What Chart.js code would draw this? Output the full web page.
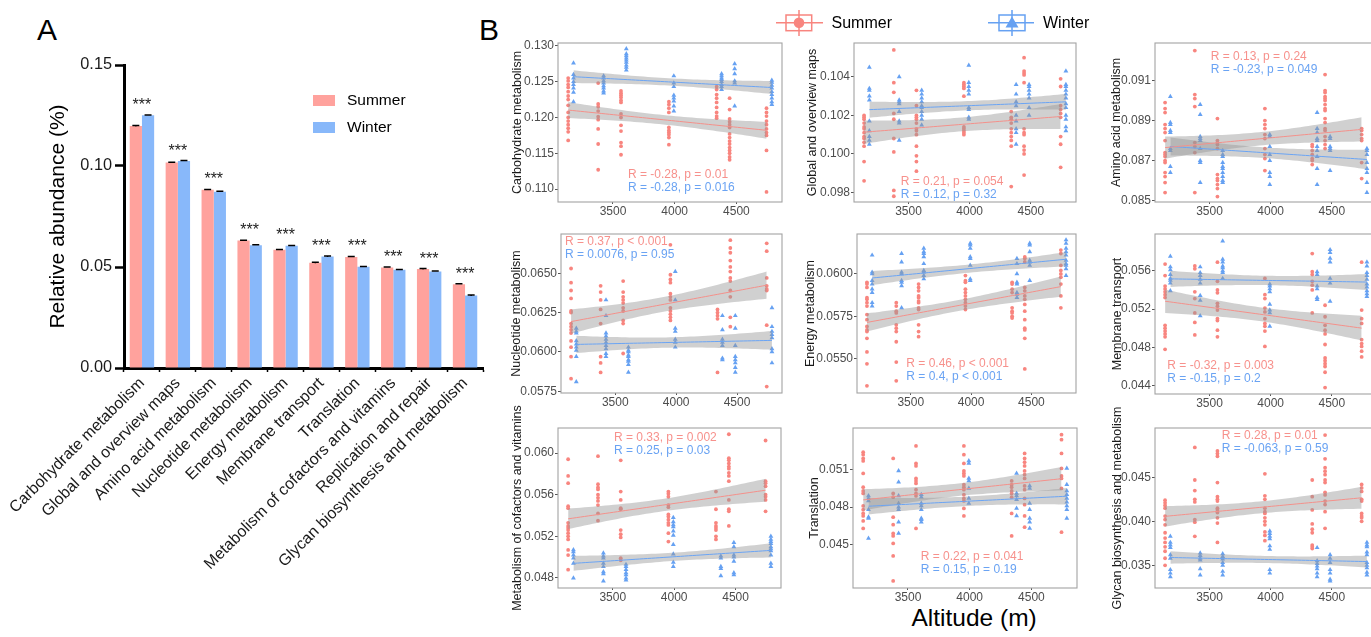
<!DOCTYPE html>
<html><head><meta charset="utf-8">
<script src="https://cdn.jsdelivr.net/npm/chart.js@4.4.1/dist/chart.umd.min.js"></script>
<style>
html,body{margin:0;padding:0;background:#fff;overflow:hidden;}
body{width:1371px;height:637px;position:relative;}
canvas{position:absolute;}
.t{position:absolute;font-family:"Liberation Sans",Arial,sans-serif;color:#000;line-height:1;white-space:nowrap;}
</style></head><body>
<div class="t" style="left:37px;top:14.6px;font-size:30px">A</div>
<div class="t" style="left:479px;top:14.6px;font-size:30px">B</div>
<div class="t" style="left:911.5px;top:606px;font-size:24.5px">Altitude (m)</div>
<script>
// ---------------- Panel A data ----------------
const categories = ['Carbohydrate metabolism','Global and overview maps','Amino acid metabolism','Nucleotide metabolism','Energy metabolism','Membrane transport','Translation','Metabolism of cofactors and vitamins','Replication and repair','Glycan biosynthesis and metabolism'];
const summerMean = [0.1198,0.1017,0.0882,0.0631,0.0585,0.0521,0.0550,0.0498,0.0490,0.0415];
const winterMean = [0.1251,0.1025,0.0873,0.0608,0.0605,0.0552,0.0501,0.0486,0.0478,0.0359];
const summerSem = [0.0003,0.0002,0.0002,0.0002,0.0002,0.0002,0.0002,0.0002,0.0002,0.0002];
const winterSem = [0.0002,0.0002,0.0002,0.0002,0.0002,0.0002,0.0002,0.0002,0.0002,0.0002];
const sigLabels = ['***','***','***','***','***','***','***','***','***','***'];
const abundanceTicks = ['0.00','0.05','0.10','0.15'];

// ---------------- Panel B data ----------------
const summerAlt = [3137,3380,3565,3953,4340,4445,4744];
const winterAlt = [3180,3424,3608,3993,4380,4486,4787];
const altitudeTicks = ['3500','4000','4500'];

const carboS = [
 [0.1255,0.1251,0.1246,0.1242,0.1236,0.1230,0.1225,0.1217,0.1207,0.1200,0.1195,0.1190,0.1185,0.1180,0.1168],
 [0.1248,0.1219,0.1215,0.1209,0.1201,0.1197,0.1184,0.1163,0.1127],
 [0.1237,0.1234,0.1231,0.1228,0.1224,0.1221,0.1205,0.1200,0.1189,0.1181,0.1165,0.1160,0.1148],
 [0.1222,0.1218,0.1213,0.1207,0.1186,0.1182,0.1179,0.1176,0.1172,0.1162],
 [0.1243,0.1239,0.1232,0.1227,0.1221,0.1214,0.1207,0.1202,0.1199],
 [0.1227,0.1211,0.1198,0.1194,0.1190,0.1186,0.1177,0.1172,0.1167,0.1163,0.1158,0.1154,0.1150,0.1145,0.1141],
 [0.1213,0.1207,0.1202,0.1195,0.1190,0.1184,0.1179,0.1175,0.1154,0.1096]];
const carboW = [
 [0.1276,0.1260,0.1255,0.1250,0.1246,0.1241,0.1235,0.1222],
 [0.1258,0.1255,0.1251,0.1248,0.1244,0.1241,0.1237,0.1234],
 [0.1296,0.1289,0.1286,0.1283,0.1280,0.1277,0.1273,0.1270,0.1266],
 [0.1258,0.1248,0.1243,0.1231,0.1227,0.1223,0.1216,0.1209],
 [0.1261,0.1258,0.1255,0.1253,0.1250,0.1246,0.1243,0.1239],
 [0.1275,0.1268,0.1261,0.1251,0.1248,0.1216],
 [0.1252,0.1249,0.1245,0.1241,0.1236,0.1232,0.1227,0.1222,0.1218]];

const globalS = [
 [0.1020,0.1019,0.1018,0.1016,0.1014,0.1013,0.1011,0.1009,0.1008,0.1006,0.1004,0.0996,0.0986],
 [0.1054,0.1037,0.1032,0.1021,0.1018,0.1008,0.1001,0.0981,0.0978],
 [0.1033,0.1025,0.1020,0.1019,0.1018,0.1016,0.1013,0.1012,0.1010,0.1004,0.0999,0.0996,0.0991],
 [0.1037,0.1036,0.1035,0.1034,0.1030,0.1014,0.1013,0.1012,0.1011,0.1010],
 [0.1022,0.1019,0.1018,0.1016,0.1013,0.1011,0.1009,0.1007,0.1004,0.0983],
 [0.1050,0.1043,0.1042,0.1041,0.1037,0.1013,0.1011,0.1010,0.1004,0.1002,0.1000,0.0989],
 [0.1039,0.1035,0.1025,0.1023,0.1021,0.1019,0.1009,0.1005,0.0993]];
const globalW = [
 [0.1045,0.1034,0.1033,0.1030,0.1028,0.1017,0.1012,0.1009,0.1007,0.1005],
 [0.1040,0.1028,0.1027,0.1026,0.1022,0.1017,0.1016,0.1007],
 [0.1033,0.1031,0.1029,0.1027,0.1025,0.1024,0.1022,0.1020,0.1018,0.1015],
 [0.1046,0.1037,0.1035,0.1033,0.1031,0.1024,0.1023,0.1019,0.1018],
 [0.1036,0.1031,0.1027,0.1025,0.1020,0.1017,0.1013,0.1011,0.1005],
 [0.1036,0.1035,0.1033,0.1031,0.1029,0.1024,0.1020],
 [0.1043,0.1036,0.1035,0.1033,0.1031,0.1029,0.1026,0.1024,0.1020,0.1018,0.1014,0.1012]];

const aminoS = [
 [0.0899,0.0896,0.0894,0.0888,0.0886,0.0884,0.0880,0.0874,0.0873,0.0872,0.0870,0.0869,0.0864,0.0862,0.0859,0.0854],
 [0.0925,0.0903,0.0901,0.0897,0.0879,0.0877,0.0874,0.0854],
 [0.0891,0.0880,0.0879,0.0878,0.0876,0.0863,0.0861,0.0860,0.0858,0.0856,0.0852],
 [0.0896,0.0890,0.0888,0.0886,0.0883,0.0881,0.0876,0.0873,0.0871,0.0865],
 [0.0878,0.0877,0.0875,0.0873,0.0871,0.0870,0.0868],
 [0.0913,0.0905,0.0904,0.0902,0.0901,0.0900,0.0898,0.0896,0.0895,0.0891,0.0889,0.0886,0.0885,0.0882,0.0880,0.0878,0.0876],
 [0.0886,0.0885,0.0883,0.0881,0.0880,0.0869,0.0861]];
const aminoW = [
 [0.0902,0.0889,0.0888,0.0885,0.0884,0.0876,0.0875,0.0867,0.0864],
 [0.0898,0.0893,0.0882,0.0881,0.0880,0.0876,0.0870,0.0869,0.0859],
 [0.0875,0.0873,0.0872,0.0869,0.0867,0.0866,0.0864,0.0862,0.0860,0.0859],
 [0.0883,0.0882,0.0877,0.0873,0.0870,0.0864,0.0862,0.0858],
 [0.0894,0.0886,0.0884,0.0881,0.0880,0.0877,0.0875,0.0872,0.0866,0.0858],
 [0.0882,0.0881,0.0877,0.0876,0.0875,0.0865],
 [0.0876,0.0875,0.0873,0.0869,0.0866,0.0864,0.0859,0.0854]];

const nucleoS = [
 [0.0653,0.0644,0.0639,0.0634,0.0626,0.0625,0.0618,0.0616,0.0614,0.0612,0.0607,0.0603,0.0597,0.0583],
 [0.0642,0.0638,0.0633,0.0627,0.0618,0.0597,0.0593,0.0587],
 [0.0645,0.0638,0.0635,0.0633,0.0631,0.0628,0.0626,0.0620,0.0618,0.0599],
 [0.0668,0.0649,0.0646,0.0644,0.0637,0.0635,0.0633,0.0628,0.0626,0.0624,0.0622,0.0620],
 [0.0627,0.0625,0.0623,0.0621,0.0587],
 [0.0671,0.0666,0.0663,0.0658,0.0654,0.0651,0.0647,0.0645,0.0639,0.0635,0.0622,0.0616],
 [0.0669,0.0664,0.0647,0.0642,0.0640,0.0639,0.0617,0.0578]];
const nucleoW = [
 [0.0615,0.0613,0.0612,0.0607,0.0605,0.0603,0.0601,0.0597,0.0581],
 [0.0633,0.0623,0.0612,0.0610,0.0608,0.0606,0.0604,0.0602,0.0599,0.0597],
 [0.0603,0.0601,0.0600,0.0598,0.0597,0.0595,0.0594,0.0592,0.0587],
 [0.0651,0.0633,0.0615,0.0613,0.0608,0.0606,0.0603],
 [0.0623,0.0614,0.0608,0.0606,0.0604,0.0596,0.0595],
 [0.0623,0.0615,0.0604,0.0597,0.0595,0.0593,0.0590,0.0587],
 [0.0628,0.0616,0.0613,0.0611,0.0609,0.0602,0.0600,0.0593]];

const energyS = [
 [0.0595,0.0594,0.0592,0.0586,0.0585,0.0583,0.0581,0.0576,0.0573,0.0569,0.0567,0.0566,0.0562,0.0554,0.0547,0.0534],
 [0.0583,0.0581,0.0578,0.0577,0.0570,0.0568,0.0566,0.0560,0.0548,0.0537],
 [0.0594,0.0592,0.0590,0.0587,0.0586,0.0584,0.0583,0.0580,0.0579,0.0570,0.0566,0.0563],
 [0.0599,0.0596,0.0595,0.0591,0.0589,0.0587,0.0585,0.0583,0.0581,0.0579],
 [0.0595,0.0594,0.0591,0.0589,0.0580,0.0578,0.0577,0.0575,0.0574],
 [0.0610,0.0609,0.0607,0.0592,0.0590,0.0587,0.0585,0.0582,0.0578,0.0573,0.0568,0.0567,0.0562,0.0544],
 [0.0614,0.0612,0.0605,0.0602,0.0600,0.0598,0.0594,0.0587,0.0580]];
const energyW = [
 [0.0611,0.0601,0.0600,0.0596,0.0594,0.0591,0.0589,0.0583,0.0581],
 [0.0612,0.0607,0.0601,0.0600,0.0596,0.0595,0.0593,0.0580],
 [0.0615,0.0613,0.0612,0.0610,0.0606,0.0602,0.0601,0.0599,0.0597],
 [0.0618,0.0617,0.0615,0.0610,0.0609,0.0605,0.0597,0.0596],
 [0.0609,0.0606,0.0600,0.0595,0.0594,0.0589,0.0588,0.0586],
 [0.0618,0.0617,0.0613,0.0608,0.0607,0.0605,0.0596],
 [0.0620,0.0618,0.0615,0.0613,0.0611,0.0608,0.0606,0.0605,0.0603,0.0599]];

const membraneS = [
 [0.0567,0.0555,0.0544,0.0541,0.0538,0.0535,0.0532,0.0503,0.0500,0.0497,0.0494,0.0491,0.0478],
 [0.0565,0.0562,0.0538,0.0531,0.0516,0.0506,0.0493],
 [0.0569,0.0549,0.0540,0.0537,0.0526,0.0523,0.0519,0.0510,0.0508,0.0498,0.0491],
 [0.0552,0.0535,0.0531,0.0521,0.0517,0.0510,0.0505,0.0502,0.0497,0.0481],
 [0.0578,0.0559,0.0556,0.0549,0.0545,0.0540,0.0516],
 [0.0524,0.0512,0.0503,0.0498,0.0494,0.0483,0.0469,0.0466,0.0463,0.0460,0.0454,0.0438],
 [0.0569,0.0519,0.0510,0.0505,0.0488,0.0484,0.0481,0.0476,0.0470]];
const membraneW = [
 [0.0575,0.0564,0.0561,0.0556,0.0552,0.0550,0.0547,0.0539],
 [0.0564,0.0558,0.0555,0.0551,0.0547,0.0534,0.0529,0.0513],
 [0.0591,0.0572,0.0569,0.0565,0.0563,0.0560,0.0558,0.0552],
 [0.0546,0.0544,0.0541,0.0538,0.0525,0.0519,0.0516,0.0502],
 [0.0559,0.0556,0.0544,0.0541,0.0532,0.0530],
 [0.0582,0.0579,0.0573,0.0569,0.0552,0.0547,0.0528],
 [0.0569,0.0565,0.0558,0.0555,0.0551,0.0546,0.0543,0.0539,0.0536,0.0533]];

const cofactorS = [
 [0.0594,0.0578,0.0571,0.0549,0.0547,0.0533,0.0530,0.0528,0.0526,0.0523,0.0520,0.0517,0.0507,0.0502,0.0488],
 [0.0597,0.0570,0.0567,0.0565,0.0560,0.0557,0.0554,0.0550,0.0542,0.0535],
 [0.0593,0.0563,0.0555,0.0547,0.0546,0.0526,0.0522,0.0519,0.0499,0.0497],
 [0.0563,0.0561,0.0558,0.0550,0.0548,0.0541,0.0539,0.0536,0.0533,0.0531,0.0523,0.0515],
 [0.0563,0.0546,0.0533,0.0530,0.0528,0.0526,0.0520,0.0517],
 [0.0618,0.0595,0.0593,0.0590,0.0587,0.0585,0.0581,0.0578,0.0573,0.0555,0.0546,0.0544,0.0530],
 [0.0612,0.0573,0.0571,0.0568,0.0560,0.0558,0.0555,0.0544]];
const cofactorW = [
 [0.0507,0.0505,0.0502,0.0499,0.0494,0.0480],
 [0.0504,0.0501,0.0499,0.0494,0.0491,0.0486,0.0484,0.0477],
 [0.0493,0.0491,0.0488,0.0485,0.0483,0.0480,0.0478],
 [0.0538,0.0534,0.0531,0.0529,0.0525,0.0521,0.0512,0.0503,0.0495,0.0491],
 [0.0501,0.0499,0.0491,0.0489,0.0482],
 [0.0514,0.0510,0.0502,0.0500,0.0496,0.0485,0.0483],
 [0.0520,0.0517,0.0515,0.0513,0.0510,0.0508,0.0506,0.0502,0.0494,0.0491]];

const translationS = [
 [0.0524,0.0522,0.0519,0.0517,0.0507,0.0496,0.0493,0.0491,0.0481,0.0478,0.0475,0.0473,0.0469,0.0463],
 [0.0519,0.0491,0.0488,0.0472,0.0466,0.0459,0.0457,0.0451,0.0441,0.0421],
 [0.0529,0.0515,0.0513,0.0503,0.0501,0.0499,0.0494,0.0491,0.0489,0.0463],
 [0.0529,0.0522,0.0515,0.0509,0.0507,0.0505,0.0498,0.0496,0.0494,0.0490,0.0487,0.0485,0.0479,0.0473],
 [0.0501,0.0498,0.0496,0.0493,0.0491,0.0488,0.0475,0.0457],
 [0.0523,0.0519,0.0516,0.0513,0.0509,0.0506,0.0503,0.0497,0.0494,0.0487,0.0482,0.0473,0.0464],
 [0.0538,0.0534,0.0523,0.0511,0.0505,0.0503,0.0495,0.0460]];
const translationW = [
 [0.0489,0.0487,0.0485,0.0478,0.0472,0.0471,0.0455],
 [0.0509,0.0500,0.0489,0.0483,0.0480,0.0478,0.0468,0.0459],
 [0.0490,0.0488,0.0483,0.0481,0.0478,0.0471,0.0470,0.0468],
 [0.0517,0.0515,0.0503,0.0501,0.0495,0.0487,0.0483],
 [0.0507,0.0491,0.0489,0.0486,0.0479,0.0473],
 [0.0497,0.0495,0.0483,0.0478,0.0471,0.0468,0.0463],
 [0.0511,0.0498,0.0493,0.0490,0.0487,0.0484,0.0481,0.0478,0.0471]];

const glycanS = [
 [0.0424,0.0421,0.0418,0.0415,0.0406,0.0402,0.0396,0.0387,0.0381,0.0376,0.0371,0.0366,0.0358,0.0350],
 [0.0484,0.0447,0.0435,0.0425,0.0422,0.0402,0.0399,0.0383],
 [0.0480,0.0477,0.0474,0.0444,0.0428,0.0425,0.0423,0.0415,0.0413,0.0410,0.0404,0.0398,0.0376],
 [0.0454,0.0429,0.0425,0.0415,0.0411,0.0409,0.0404,0.0400,0.0396,0.0388,0.0384,0.0378],
 [0.0447,0.0428,0.0413,0.0397,0.0391,0.0387,0.0373,0.0371,0.0369],
 [0.0498,0.0471,0.0461,0.0457,0.0453,0.0447,0.0444,0.0433,0.0430,0.0423,0.0419,0.0411,0.0392],
 [0.0442,0.0438,0.0434,0.0425,0.0423,0.0409,0.0406,0.0404,0.0400]];
const glycanW = [
 [0.0383,0.0376,0.0373,0.0370,0.0362,0.0358,0.0345,0.0341,0.0337],
 [0.0364,0.0361,0.0358,0.0356,0.0346,0.0339],
 [0.0363,0.0360,0.0357,0.0353,0.0350,0.0343,0.0339],
 [0.0389,0.0386,0.0383,0.0380,0.0372,0.0368,0.0345,0.0341],
 [0.0370,0.0355,0.0352,0.0349,0.0346,0.0341,0.0337],
 [0.0362,0.0358,0.0353,0.0345,0.0341,0.0334,0.0332],
 [0.0376,0.0373,0.0371,0.0365,0.0362,0.0353,0.0350,0.0347,0.0342,0.0339]];

const panelTitles = ['Carbohydrate metabolism','Global and overview maps','Amino acid metabolism','Nucleotide metabolism','Energy metabolism','Membrane transport','Metabolism of cofactors and vitamins','Translation','Glycan biosynthesis and metabolism'];
const carboTicks = ['0.110','0.115','0.120','0.125','0.130'];
const globalTicks = ['0.098','0.100','0.102','0.104'];
const aminoTicks = ['0.085','0.087','0.089','0.091'];
const nucleoTicks = ['0.0575','0.0600','0.0625','0.0650'];
const energyTicks = ['0.0550','0.0575','0.0600'];
const membraneTicks = ['0.044','0.048','0.052','0.056'];
const cofactorTicks = ['0.048','0.052','0.056','0.060'];
const translationTicks = ['0.045','0.048','0.051'];
const glycanTicks = ['0.035','0.040','0.045'];
const yLow  = [0.1082,0.0975,0.08493,0.05739,0.05298,0.04313,0.04704,0.04153,0.03242];
const yHigh = [0.1304,0.10576,0.09288,0.06749,0.06235,0.05984,0.0624,0.05433,0.05061];
const statSummer = ['R = -0.28, p = 0.01','R = 0.21, p = 0.054','R = 0.13, p = 0.24','R = 0.37, p < 0.001','R = 0.46, p < 0.001','R = -0.32, p = 0.003','R = 0.33, p = 0.002','R = 0.22, p = 0.041','R = 0.28, p = 0.01'];
const statWinter = ['R = -0.28, p = 0.016','R = 0.12, p = 0.32','R = -0.23, p = 0.049','R = 0.0076, p = 0.95','R = 0.4, p < 0.001','R = -0.15, p = 0.2','R = 0.25, p = 0.03','R = 0.15, p = 0.19','R = -0.063, p = 0.59'];

const panelSummer = [carboS,globalS,aminoS,nucleoS,energyS,membraneS,cofactorS,translationS,glycanS];
const panelWinter = [carboW,globalW,aminoW,nucleoW,energyW,membraneW,cofactorW,translationW,glycanW];
const panelTicks = [carboTicks,globalTicks,aminoTicks,nucleoTicks,energyTicks,membraneTicks,cofactorTicks,translationTicks,glycanTicks];

// ---------------- layout & style (not data) ----------------
const FONT = '"Liberation Sans", Arial, sans-serif';
const barS = '#FFA29D', barW = '#88B8FA';
const ptS = '#F8857F', ptW = '#66A1F2';
const lineS = '#F4908A', lineW = '#6AA4F4';
const txtS = '#F7918C', txtW = '#6AA3F3';
const bandCol = 'rgba(150,150,150,0.45)';
const boxes = [
 {l:558,t:43,r:782,b:202,tx:518,sx:629,sy:175},
 {l:854,t:43,r:1076,b:202,tx:813,sx:901.7,sy:181.7},
 {l:1155,t:43,r:1377,b:202,tx:1117,sx:1211.7,sy:56.7},
 {l:561,t:234,r:782,b:393,tx:517,sx:566,sy:241.7},
 {l:857,t:234,r:1076,b:393,tx:811,sx:907.3,sy:363.3},
 {l:1155,t:234,r:1377,b:394,tx:1118,sx:1168.3,sy:365.7},
 {l:558,t:428,r:781,b:588,tx:518,sx:615,sy:437.7},
 {l:853,t:428,r:1077,b:588,tx:815,sx:921.7,sy:556.7},
 {l:1155,t:428,r:1377,b:588,tx:1118,sx:1222.7,sy:435.7}];

Chart.defaults.font.family = FONT;
Chart.defaults.animation = false;
Chart.defaults.events = [];

function makeCanvas(left, top, w, h){
  const c = document.createElement('canvas');
  c.width = w; c.height = h;
  c.style.left = left + 'px'; c.style.top = top + 'px';
  c.style.width = w + 'px'; c.style.height = h + 'px';
  document.body.appendChild(c);
  return c;
}

// ---------------- Panel A ----------------
const errStars = {
  id:'errStars',
  afterDatasetsDraw(chart){
    const ctx = chart.ctx, y = chart.scales.y;
    const m0 = chart.getDatasetMeta(0), m1 = chart.getDatasetMeta(1);
    ctx.save();
    ctx.strokeStyle = '#000'; ctx.lineWidth = 1.5;
    [[m0,summerMean,summerSem],[m1,winterMean,winterSem]].forEach(([m,vals,sem])=>{
      m.data.forEach((bar,i)=>{
        const yt = y.getPixelForValue(vals[i]+sem[i]), yb = y.getPixelForValue(vals[i]-sem[i]);
        ctx.beginPath();
        ctx.moveTo(bar.x, yt); ctx.lineTo(bar.x, yb);
        ctx.moveTo(bar.x-3.5, yt); ctx.lineTo(bar.x+3.5, yt);
        ctx.stroke();
      });
    });
    ctx.fillStyle = '#222'; ctx.font = '16px ' + FONT; ctx.textAlign = 'center'; ctx.textBaseline = 'alphabetic';
    sigLabels.forEach((s,i)=>{
      const top = Math.min(y.getPixelForValue(summerMean[i]+summerSem[i]), y.getPixelForValue(winterMean[i]+winterSem[i]));
      const cx = (m0.data[i].x + m1.data[i].x)/2;
      ctx.fillText(s, cx, top - 5);
    });
    // legend
    ctx.fillStyle = barS; ctx.fillRect(313, 95, 22, 11);
    ctx.fillStyle = barW; ctx.fillRect(313, 122, 22, 11);
    ctx.fillStyle = '#000'; ctx.font = '15.5px ' + FONT; ctx.textAlign = 'left'; ctx.textBaseline = 'middle';
    ctx.fillText(chart.data.datasets[0].label, 347, 101);
    ctx.fillText(chart.data.datasets[1].label, 347, 128);
    ctx.restore();
  }
};
const cvA = makeCanvas(0, 0, 495, 637);
new Chart(cvA, {
  type:'bar',
  data:{labels:categories, datasets:[
    {label:'Summer', data:summerMean, backgroundColor:barS, barPercentage:1, categoryPercentage:0.68},
    {label:'Winter', data:winterMean, backgroundColor:barW, barPercentage:1, categoryPercentage:0.68}]},
  options:{
    responsive:false,
    layout:{padding:{left:40, top:65, right:12, bottom:0}},
    plugins:{legend:{display:false}, tooltip:{enabled:false}},
    scales:{
      x:{z:1, offset:true,
         border:{display:true, width:3, color:'#000'},
         grid:{display:true, drawOnChartArea:false, drawTicks:true, tickLength:4, tickWidth:1.5, tickColor:'#000'},
         ticks:{autoSkip:false, maxRotation:45, minRotation:45, padding:2, color:'#1a1a1a', font:{size:16}},
         afterFit:(s)=>{ s.height = 637-368; }},
      y:{z:1, min:0, max:0.15,
         afterBuildTicks:(s)=>{ s.ticks = abundanceTicks.map(v=>({value:parseFloat(v)})); },
         border:{display:true, width:3, color:'#000'},
         grid:{display:true, drawOnChartArea:false, drawTicks:true, tickLength:9, tickWidth:2.5, tickColor:'#000'},
         ticks:{padding:3, color:'#1a1a1a', font:{size:16.3},
                callback:(v)=>abundanceTicks.find(s=>Math.abs(parseFloat(s)-v)<1e-9)},
         title:{display:true, text:'Relative abundance (%)', color:'#000', font:{size:21}, padding:{top:5.4, bottom:0}},
         afterFit:(s)=>{ s.width = 84; }}
    }
  },
  plugins:[errStars]
});

// ---------------- Panel B ----------------
const T95 = 1.99;
function flatten(alts, groups){ const p=[]; groups.forEach((g,i)=>g.forEach(v=>p.push({x:alts[i], y:v}))); return p; }
function ols(p){
  const n=p.length; let mx=0,my=0; p.forEach(q=>{mx+=q.x;my+=q.y;}); mx/=n; my/=n;
  let sxx=0,sxy=0; p.forEach(q=>{sxx+=(q.x-mx)**2; sxy+=(q.x-mx)*(q.y-my);});
  const b=sxy/sxx, a=my-b*mx; let ss=0; p.forEach(q=>{ss+=(q.y-a-b*q.x)**2;});
  return {a,b,n,mx,sxx,s:Math.sqrt(ss/(n-2))};
}
function bands(f, x0, x1){
  const up=[],lo=[],ln=[];
  for(let k=0;k<=48;k++){
    const x=x0+(x1-x0)*k/48, yh=f.a+f.b*x;
    const se=f.s*Math.sqrt(1/f.n+(x-f.mx)**2/f.sxx);
    up.push({x,y:yh+T95*se}); lo.push({x,y:yh-T95*se}); ln.push({x,y:yh});
  }
  return {up,lo,ln};
}
const xMin = 3054.5, xMax = 4869.5;

function buildPanel(i){
  const B = boxes[i];
  const padT = 42;
  const cLeft = Math.round(B.tx - 10), cTop = B.t - padT;
  const Wy = B.l - cLeft;
  const W = Math.ceil(Wy + (B.r - B.l) + 15);
  const padR = W - Wy - (B.r - B.l);
  const Hx = 30;
  const H = padT + (B.b - B.t) + Hx;
  const cv = makeCanvas(cLeft, cTop, W, H);
  const sP = flatten(summerAlt, panelSummer[i]), wP = flatten(winterAlt, panelWinter[i]);
  const sB = bands(ols(sP), summerAlt[0], summerAlt[summerAlt.length-1]);
  const wB = bands(ols(wP), winterAlt[0], winterAlt[winterAlt.length-1]);
  const ticks = panelTicks[i];
  const clear = 'rgba(0,0,0,0)';
  const deco = {
    id:'deco'+i,
    afterDatasetsDraw(chart){
      const a = chart.chartArea, ctx = chart.ctx;
      ctx.save();
      ctx.strokeStyle = '#a3a3a3'; ctx.lineWidth = 1.1;
      ctx.strokeRect(a.left, a.top, a.right-a.left, a.bottom-a.top);
      ctx.restore();
    },
    afterDraw(chart){
      const ctx = chart.ctx;
      ctx.save();
      ctx.font = '12px ' + FONT; ctx.textAlign = 'left'; ctx.textBaseline = 'middle';
      ctx.fillStyle = txtS; ctx.fillText(statSummer[i], B.sx - cLeft - 1, B.sy - cTop);
      ctx.fillStyle = txtW; ctx.fillText(statWinter[i], B.sx - cLeft - 1, B.sy - cTop + 13);
      ctx.restore();
    }
  };
  new Chart(cv, {
    type:'scatter',
    data:{datasets:[
      {type:'line', data:sB.ln, borderColor:lineS, borderWidth:1, pointRadius:0, fill:false, order:0},
      {type:'line', data:wB.ln, borderColor:lineW, borderWidth:1, pointRadius:0, fill:false, order:0},
      {type:'line', data:sB.up, borderColor:clear, borderWidth:0, pointRadius:0, fill:false, order:1},
      {type:'line', data:sB.lo, borderColor:clear, borderWidth:0, pointRadius:0, fill:2, backgroundColor:bandCol, order:1},
      {type:'line', data:wB.up, borderColor:clear, borderWidth:0, pointRadius:0, fill:false, order:2},
      {type:'line', data:wB.lo, borderColor:clear, borderWidth:0, pointRadius:0, fill:4, backgroundColor:bandCol, order:2},
      {label:'Summer', data:sP, pointStyle:'circle', pointRadius:1.9, backgroundColor:ptS, borderWidth:0, order:3},
      {label:'Winter', data:wP, pointStyle:'triangle', pointRadius:2.8, backgroundColor:ptW, borderWidth:0, order:3}
    ]},
    options:{
      responsive:false,
      layout:{padding:{left:0, top:padT, right:padR, bottom:0}},
      plugins:{legend:{display:false}, tooltip:{enabled:false}},
      scales:{
        x:{type:'linear', min:xMin, max:xMax,
           afterBuildTicks:(s)=>{ s.ticks = altitudeTicks.map(v=>({value:parseFloat(v)})); },
           border:{display:false},
           grid:{display:true, drawOnChartArea:false, drawTicks:true, tickLength:2, tickColor:'#555', tickWidth:1},
           ticks:{padding:0, color:'#4d4d4d', font:{size:12}, callback:(v)=>String(v)},
           afterFit:(s)=>{ s.height = Hx; }},
        y:{type:'linear', min:yLow[i], max:yHigh[i],
           afterBuildTicks:(s)=>{ s.ticks = ticks.map(v=>({value:parseFloat(v)})); },
           border:{display:false},
           grid:{display:true, drawOnChartArea:false, drawTicks:true, tickLength:3, tickColor:'#555', tickWidth:1},
           ticks:{padding:1, color:'#4d4d4d', font:{size:12},
                  callback:(v)=>ticks.find(s=>Math.abs(parseFloat(s)-v)<1e-9)},
           title:{display:true, text:panelTitles[i], color:'#1a1a1a', font:{size:12.5}, padding:{top:B.tx - cLeft - 7.5, bottom:0}},
           afterFit:(s)=>{ s.width = Wy; }}
      }
    },
    plugins:[deco]
  });
}
for (let i=0;i<9;i++) buildPanel(i);

// ---------------- Panel B legend ----------------
const legendB = {
  id:'legendB',
  afterDraw(chart){
    const ctx = chart.ctx, ox = 760;
    ctx.save();
    ctx.strokeStyle = ptS; ctx.fillStyle = ptS; ctx.lineWidth = 1.5;
    ctx.beginPath(); ctx.moveTo(776-ox,22.7); ctx.lineTo(823-ox,22.7); ctx.moveTo(799-ox,10); ctx.lineTo(799-ox,36); ctx.stroke();
    ctx.strokeRect(786-ox,15,25.7,15.7);
    ctx.beginPath(); ctx.arc(799-ox,22.7,5.3,0,Math.PI*2); ctx.fill();
    ctx.strokeStyle = ptW; ctx.fillStyle = ptW;
    ctx.beginPath(); ctx.moveTo(988-ox,22.7); ctx.lineTo(1034-ox,22.7); ctx.moveTo(1012-ox,10); ctx.lineTo(1012-ox,36); ctx.stroke();
    ctx.strokeRect(999-ox,15,26,15.7);
    ctx.beginPath(); ctx.moveTo(1012-ox,16.5); ctx.lineTo(1018.5-ox,27.5); ctx.lineTo(1005.5-ox,27.5); ctx.closePath(); ctx.fill();
    ctx.fillStyle = '#000'; ctx.font = '16px ' + FONT; ctx.textAlign = 'left'; ctx.textBaseline = 'middle';
    ctx.fillText('Summer', 831.5-ox, 23.5);
    ctx.fillText('Winter', 1043-ox, 23.5);
    ctx.restore();
  }
};
const cvL = makeCanvas(760, 0, 380, 42);
new Chart(cvL, {type:'scatter', data:{datasets:[]},
  options:{responsive:false, plugins:{legend:{display:false}, tooltip:{enabled:false}},
    scales:{x:{display:false}, y:{display:false}}},
  plugins:[legendB]});
</script>
</body></html>
